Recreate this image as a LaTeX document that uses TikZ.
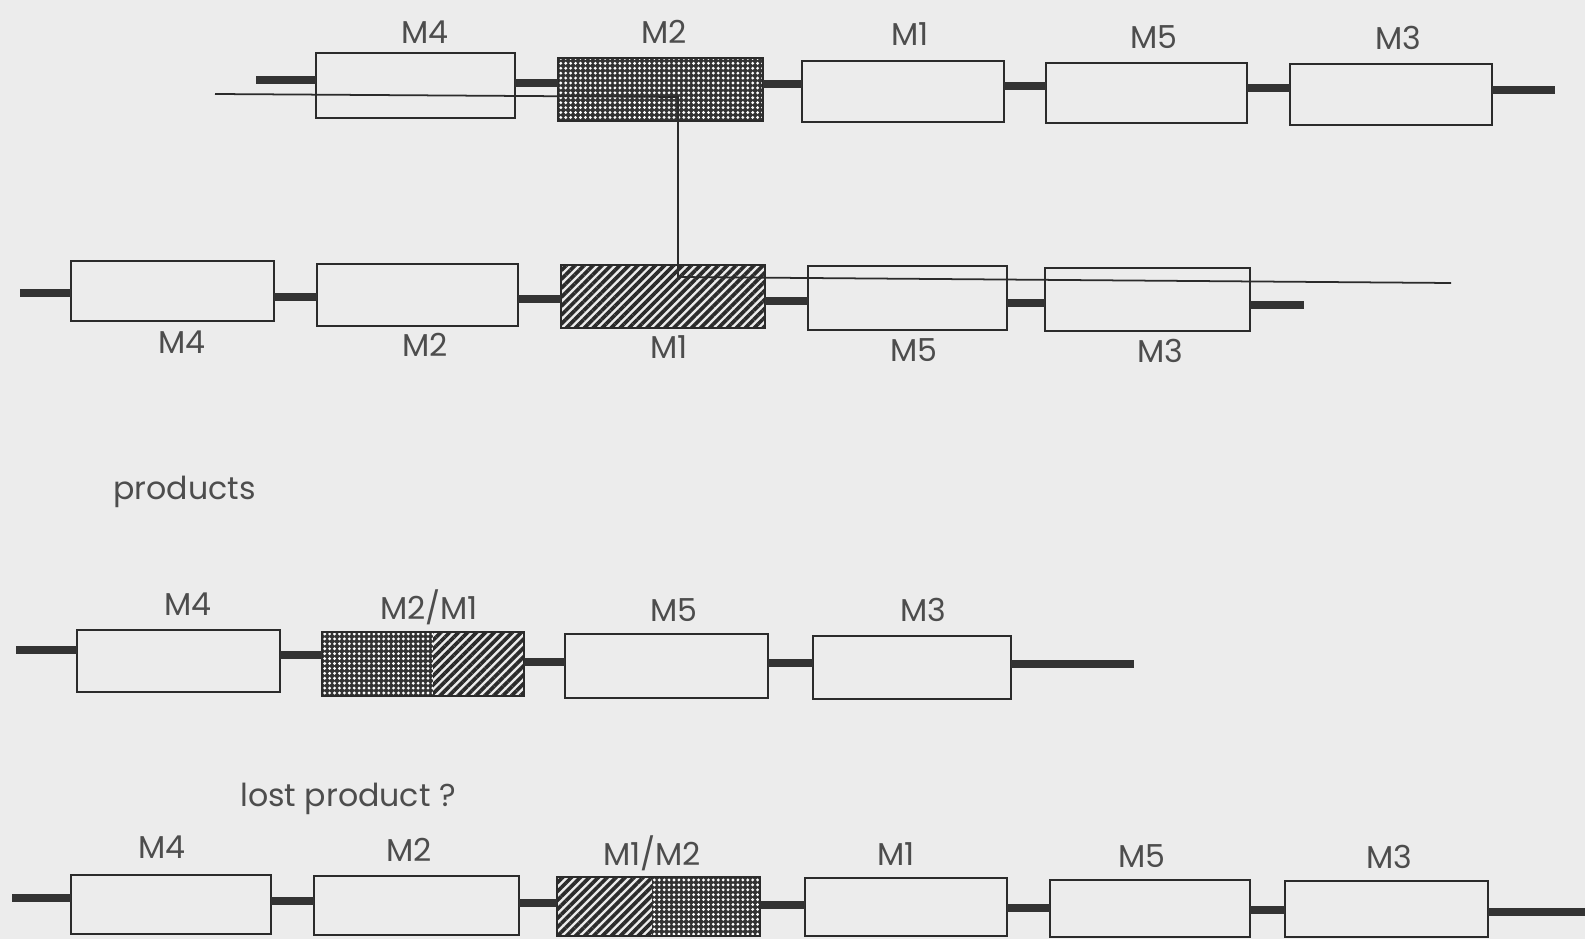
\documentclass[tikz,border=0pt]{standalone}
\usepackage{fontspec}
\setmainfont{Poppins}
\usetikzlibrary{fit,patterns.meta,calc}
\definecolor{bg}{HTML}{ECECEC}
\definecolor{ink}{HTML}{2B2B2B}
\definecolor{barc}{HTML}{333333}
\definecolor{txt}{HTML}{4D4D4D}
\definecolor{dotbg}{HTML}{333333}
\tikzset{
  gene/.style={draw=ink, line width=1.6pt, inner sep=0pt, outer sep=0pt},
  dotbox/.style={gene, preaction={fill=dotbg}, preaction={pattern={Dots[distance=2.8pt,radius=0.9pt]}, pattern color=white}},
  hatchbox/.style={gene, preaction={fill=bg}, preaction={pattern={Lines[angle=45,distance=3.6pt,line width=2.1pt]}, pattern color=ink}},
  dotpart/.style={pattern={Dots[distance=2.8pt,radius=0.9pt]}, pattern color=white},
  hatchpart/.style={pattern={Lines[angle=45,distance=3.6pt,line width=2.1pt]}, pattern color=ink},
  bar/.style={draw=barc, line width=5pt},
  guide/.style={draw=ink, line width=1pt},
  lbl/.style={font=\fontsize{18}{20}\selectfont, text=txt, inner sep=0pt},
}
\newcommand\barlink[3]{\draw[bar] (#1.east |- 0,#3) -- (#2.west |- 0,#3);}
\begin{document}
\begin{tikzpicture}[x=0.02cm, y=-0.02cm]
\fill[bg] (0,0) rectangle (1585,939);
\useasboundingbox (0,0) rectangle (1585,939);
\clip (0,0) rectangle (1585,939);

% ---------- Row 1 ----------
\node[gene, fit={(316,53) (515,118)}] (r1m4) {};
\node[dotbox, fit={(558,58) (763,121)}] (r1m2) {};
\node[gene, fit={(802,61) (1004,122)}] (r1m1) {};
\node[gene, fit={(1046,63) (1247,123)}] (r1m5) {};
\node[gene, fit={(1290,64) (1492,125)}] (r1m3) {};
\coordinate (r1a) at (256,80);
\coordinate (r1z) at (1555,90);
\draw[bar] (r1a) -- (r1a -| r1m4.west);
\barlink{r1m4}{r1m2}{83}
\barlink{r1m2}{r1m1}{84}
\barlink{r1m1}{r1m5}{86}
\barlink{r1m5}{r1m3}{88}
\draw[bar] (r1m3.east |- r1z) -- (r1z);
\node[lbl] (l1m4) at (425,32) {M4};
\node[lbl] (l1m2) at (664,32) {M2};
\node[lbl] (l1m1) at (910,34) {M1};
\node[lbl] (l1m5) at (1154,37) {M5};
\node[lbl] (l1m3) at (1398,38) {M3};

% ---------- Row 2 ----------
\node[gene, fit={(71,261) (274,321)}] (r2m4) {};
\node[gene, fit={(317,264) (518,326)}] (r2m2) {};
\node[hatchbox, fit={(561,265) (765,328)}] (r2m1) {};
\node[gene, fit={(808,266) (1007,330)}] (r2m5) {};
\node[gene, fit={(1045,268) (1250,331)}] (r2m3) {};
\coordinate (r2a) at (20,293);
\coordinate (r2z) at (1304,305);
\draw[bar] (r2a) -- (r2a -| r2m4.west);
\barlink{r2m4}{r2m2}{297}
\barlink{r2m2}{r2m1}{299}
\barlink{r2m1}{r2m5}{301}
\barlink{r2m5}{r2m3}{303}
\draw[bar] (r2m3.east |- r2z) -- (r2z);
\node[lbl] (l2m4) at (182,342) {M4};
\node[lbl] (l2m2) at (425,345) {M2};
\node[lbl] (l2m1) at (669,347) {M1};
\node[lbl] (l2m5) at (914,350) {M5};
\node[lbl] (l2m3) at (1160,351) {M3};

% crossing guide line
\coordinate (t1) at (215,94);
\coordinate (t2) at (678,97);
\coordinate (t3) at (678,277);
\coordinate (t4) at (1451,283);
\draw[guide] (t1) -- (t2) -- (t3) -- (t4);

\node[lbl, anchor=west] (prod) at (113,492) {products};

% ---------- Row 3 ----------
\coordinate (r3s) at (433,660);
\node[gene, fit={(77,630) (280,692)}] (r3m4) {};
\node[gene, fit={(322,632) (524,696)}, path picture={
  \fill[dotbg] (path picture bounding box.north west) rectangle (r3s |- path picture bounding box.south);
  \fill[dotpart] (path picture bounding box.north west) rectangle (r3s |- path picture bounding box.south);
  \fill[bg] (r3s |- path picture bounding box.north) rectangle (path picture bounding box.south east);
  \fill[hatchpart] (r3s |- path picture bounding box.north) rectangle (path picture bounding box.south east);
}] (r3m21) {};
\node[gene, fit={(565,634) (768,698)}] (r3m5) {};
\node[gene, fit={(813,636) (1011,699)}] (r3m3) {};
\coordinate (r3a) at (16,650);
\coordinate (r3z) at (1134,664);
\draw[bar] (r3a) -- (r3a -| r3m4.west);
\barlink{r3m4}{r3m21}{655}
\barlink{r3m21}{r3m5}{662}
\barlink{r3m5}{r3m3}{663}
\draw[bar] (r3m3.east |- r3z) -- (r3z);
\node[lbl] (l3m4) at (188,604) {M4};
\node[lbl] (l3m21) at (429,607) {M2/M1};
\node[lbl] (l3m5) at (674,610) {M5};
\node[lbl] (l3m3) at (923,610) {M3};

\node[lbl, anchor=west] (lost) at (240,799) {lost product ?};

% ---------- Row 4 ----------
\coordinate (r4s) at (652,900);
\node[gene, fit={(71,875) (271,934)}] (r4m4) {};
\node[gene, fit={(314,876) (519,935)}] (r4m2) {};
\node[gene, fit={(557,877) (760,936)}, path picture={
  \fill[bg] (path picture bounding box.north west) rectangle (r4s |- path picture bounding box.south);
  \fill[hatchpart] (path picture bounding box.north west) rectangle (r4s |- path picture bounding box.south);
  \fill[dotbg] (r4s |- path picture bounding box.north) rectangle (path picture bounding box.south east);
  \fill[dotpart] (r4s |- path picture bounding box.north) rectangle (path picture bounding box.south east);
}] (r4m12) {};
\node[gene, fit={(805,878) (1007,936)}] (r4m1) {};
\node[gene, fit={(1050,880) (1250,937)}] (r4m5) {};
\node[gene, fit={(1285,881) (1488,937)}] (r4m3) {};
\coordinate (r4a) at (12,898);
\coordinate (r4z) at (1585,912);
\draw[bar] (r4a) -- (r4a -| r4m4.west);
\barlink{r4m4}{r4m2}{901}
\barlink{r4m2}{r4m12}{903}
\barlink{r4m12}{r4m1}{905}
\barlink{r4m1}{r4m5}{908}
\barlink{r4m5}{r4m3}{910}
\draw[bar] (r4m3.east |- r4z) -- (r4z);
\node[lbl] (l4m4) at (162,847) {M4};
\node[lbl] (l4m2) at (409,850) {M2};
\node[lbl] (l4m12) at (652,853) {M1/M2};
\node[lbl] (l4m1) at (896,854) {M1};
\node[lbl] (l4m5) at (1142,856) {M5};
\node[lbl] (l4m3) at (1389,857) {M3};
\end{tikzpicture}
\end{document}
